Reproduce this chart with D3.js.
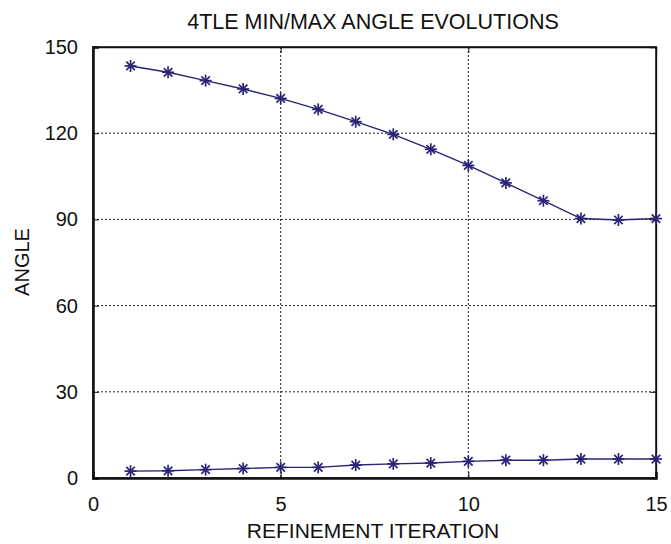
<!DOCTYPE html>
<html>
<head>
<meta charset="utf-8">
<script src="https://cdn.jsdelivr.net/npm/d3@7"></script>
<style>
  body { margin: 0; background: #fff; }
  text { font-family: "Liberation Sans", Arial, sans-serif; fill: #111; }
</style>
</head>
<body>
<div id="chart"></div>
<script>
var iterations = [1, 2, 3, 4, 5, 6, 7, 8, 9, 10, 11, 12, 13, 14, 15];
var maxAngle = [143.4, 141.2, 138.3, 135.4, 132.1, 128.3, 124.0, 119.6, 114.4, 108.8, 102.7, 96.5, 90.3, 89.8, 90.3];
var minAngle = [2.4, 2.5, 2.9, 3.3, 3.7, 3.7, 4.5, 4.9, 5.2, 5.8, 6.2, 6.2, 6.6, 6.6, 6.6];
var xTicks = [0, 5, 10, 15];
var yTicks = [0, 30, 60, 90, 120, 150];

var W = 671, H = 544;
var margin = {top: 47, right: 15, bottom: 66, left: 93},
    width = W - margin.left - margin.right,
    height = H - margin.top - margin.bottom;

var svg = d3.select("#chart").append("svg")
    .attr("width", W).attr("height", H);
var g = svg.append("g")
    .attr("transform", "translate(" + margin.left + "," + margin.top + ")");

var x = d3.scaleLinear().domain([0, 15]).range([0, width]);
var y = d3.scaleLinear().domain([0, 150]).range([height, 0]);

// grid
g.selectAll(".vgrid").data(xTicks.slice(1, -1)).enter().append("line")
    .attr("x1", d => x(d)).attr("x2", d => x(d))
    .attr("y1", 0).attr("y2", height)
    .attr("stroke", "#222").attr("stroke-width", 1).attr("stroke-dasharray", "2,2");
g.selectAll(".hgrid").data(yTicks.slice(1, -1)).enter().append("line")
    .attr("x1", 0).attr("x2", width)
    .attr("y1", d => y(d)).attr("y2", d => y(d))
    .attr("stroke", "#222").attr("stroke-width", 1).attr("stroke-dasharray", "2,2");

// axes (ticks drawn inward)
var xAxis = g.append("g").attr("transform", "translate(0," + height + ")")
    .call(d3.axisBottom(x).tickValues(xTicks).tickSize(-6).tickPadding(19));
var yAxis = g.append("g")
    .call(d3.axisLeft(y).tickValues(yTicks).tickSize(-6).tickPadding(15));
g.append("g").attr("transform", "translate(" + width + ",0)")
    .call(d3.axisRight(y).tickValues(yTicks).tickSize(-6).tickFormat(""));
g.append("g")
    .call(d3.axisTop(x).tickValues(xTicks).tickSize(-6).tickFormat(""));

g.selectAll(".domain").attr("stroke", "#111").attr("stroke-width", 1.3);
xAxis.select(".domain").attr("stroke-width", 2.5);
yAxis.select(".domain").attr("stroke-width", 2.5);
g.selectAll(".tick line").attr("stroke", "#111");
g.selectAll(".tick text").style("font-size", "20px").attr("fill", "#111");

// frame
g.append("rect").attr("width", width).attr("height", height)
    .attr("fill", "none").attr("stroke", "#111").attr("stroke-width", 1.5);

// series
var color = "#2b2376";
var line = d3.line().x((d, i) => x(iterations[i])).y(d => y(d));

[maxAngle, minAngle].forEach(function(series) {
  g.append("path").datum(series)
      .attr("fill", "none").attr("stroke", color).attr("stroke-width", 1.4)
      .attr("d", line);
  var star = g.selectAll(null).data(series).enter().append("g")
      .attr("transform", (d, i) => "translate(" + x(iterations[i]) + "," + y(d) + ")");
  [0, 45, 90, 135].forEach(function(a) {
    star.append("line")
        .attr("x1", 0).attr("y1", -6).attr("x2", 0).attr("y2", 6)
        .attr("transform", "rotate(" + a + ")")
        .attr("stroke", color).attr("stroke-width", 1.7);
  });
});

// labels
svg.append("text").attr("x", 373).attr("y", 29)
    .attr("text-anchor", "middle").style("font-size", "21.5px")
    .text("4TLE MIN/MAX ANGLE EVOLUTIONS");
svg.append("text").attr("x", 373).attr("y", 538)
    .attr("text-anchor", "middle").style("font-size", "21px")
    .text("REFINEMENT ITERATION");
svg.append("text")
    .attr("transform", "translate(29,262) rotate(-90)")
    .attr("text-anchor", "middle").style("font-size", "20px")
    .text("ANGLE");
</script>
</body>
</html>
